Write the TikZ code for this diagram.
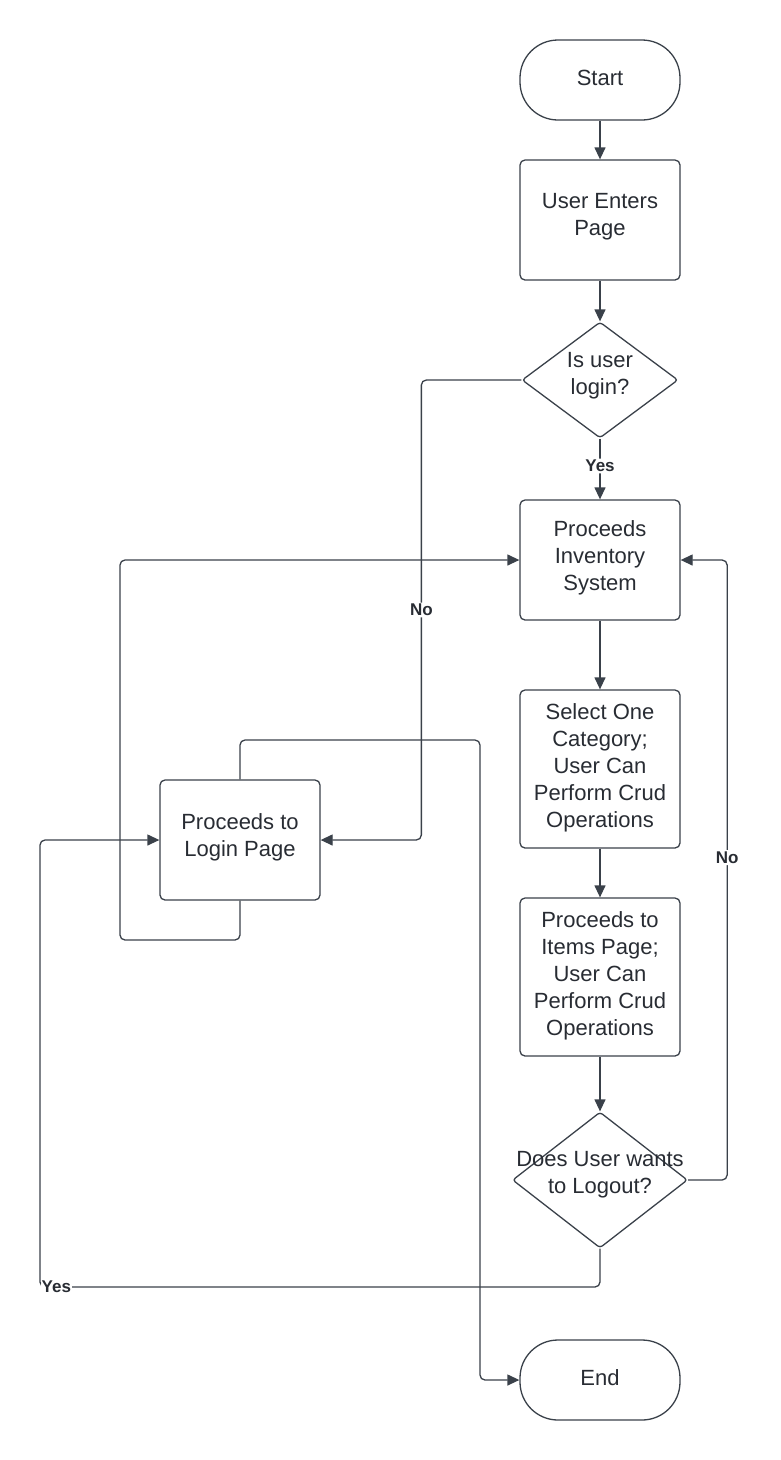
\documentclass[tikz,border=0pt]{standalone}
\usepackage{fontspec}
\setmainfont{Liberation Sans}
\usetikzlibrary{arrows.meta,shapes.geometric}
\definecolor{strk}{HTML}{3A414A}
\definecolor{txt}{HTML}{282C33}
\tikzset{
  base/.style={draw=strk, line width=1.3pt, text=txt, align=center, inner sep=0pt,
    font=\fontsize{22}{27}\selectfont},
  terminal/.style={base, rectangle, rounded corners=38pt, minimum width=160pt, minimum height=80pt},
  process/.style={base, rectangle, rounded corners=5pt, minimum width=160pt, minimum height=120pt},
  tallproc/.style={process, minimum height=158pt},
  decision/.style={base, diamond, rounded corners=3pt},
  dtext/.style={text=txt, align=center, font=\fontsize{22}{27}\selectfont},
  conn/.style={draw=strk, line width=1.3pt, rounded corners=5pt, -{Triangle[length=12pt,width=11pt]}},
  lbl/.style={fill=white, text=txt, inner sep=1.5pt, font=\fontsize{17}{19}\selectfont\bfseries}
}
\begin{document}
\begin{tikzpicture}[x=1pt,y=-1pt]
\useasboundingbox (0,0) rectangle (780,1460);
\node[terminal] (start) at (600,80) {};
\node[dtext] (startt) at (600,78) {Start};
\node[process] (enter) at (600,220) {};
\node[dtext] (entert) at (600,217) {User Enters\\Page};
\node[decision, minimum width=156pt, minimum height=116pt] (d1) at (600,380) {};
\node[dtext] (d1t) at (600,376) {Is user\\login?};
\node[process] (inv) at (600,560) {};
\node[dtext] (invt) at (600,558) {Proceeds\\Inventory\\System};
\node[tallproc] (cat) at (600,769) {};
\node[dtext] (catt) at (600,768) {Select One\\Category;\\User Can\\Perform Crud\\Operations};
\node[tallproc] (items) at (600,977) {};
\node[dtext] (itemst) at (600,976) {Proceeds to\\Items Page;\\User Can\\Perform Crud\\Operations};
\node[decision, minimum width=175pt, minimum height=136pt] (d2) at (600,1180) {};
\node[dtext] (d2t) at (600,1175) {Does User wants\\to Logout?};
\node[terminal] (end) at (600,1380) {};
\node[dtext] (endt) at (600,1378) {End};
\node[process] (login) at (240,840) {};
\node[dtext] (logint) at (240,837) {Proceeds to\\Login Page};

\draw[conn] (start) -- (enter);
\draw[conn] (enter) -- (d1);
\draw[conn] (d1.south) -- node[lbl, pos=0.45]{Yes} (inv.north);
\draw[conn] (d1.west) -- ++(-100,0) |- node[lbl, pos=0.25]{No} (login.east);
\draw[conn] (inv) -- (cat);
\draw[conn] (cat) -- (items);
\draw[conn] (items) -- (d2.north);
\draw[conn] (d2.east) -- ++(39,0) |- node[lbl, pos=0.26]{No} (inv.east);
\draw[conn] (d2.south) |- (40,1287) node[lbl, anchor=west, inner sep=1pt]{Yes} |- (login.west);
\draw[conn] (login.north) |- (480,740) |- (end.west);
\draw[conn] (login.south) |- (120,940) |- (inv.west);
\end{tikzpicture}
\end{document}
